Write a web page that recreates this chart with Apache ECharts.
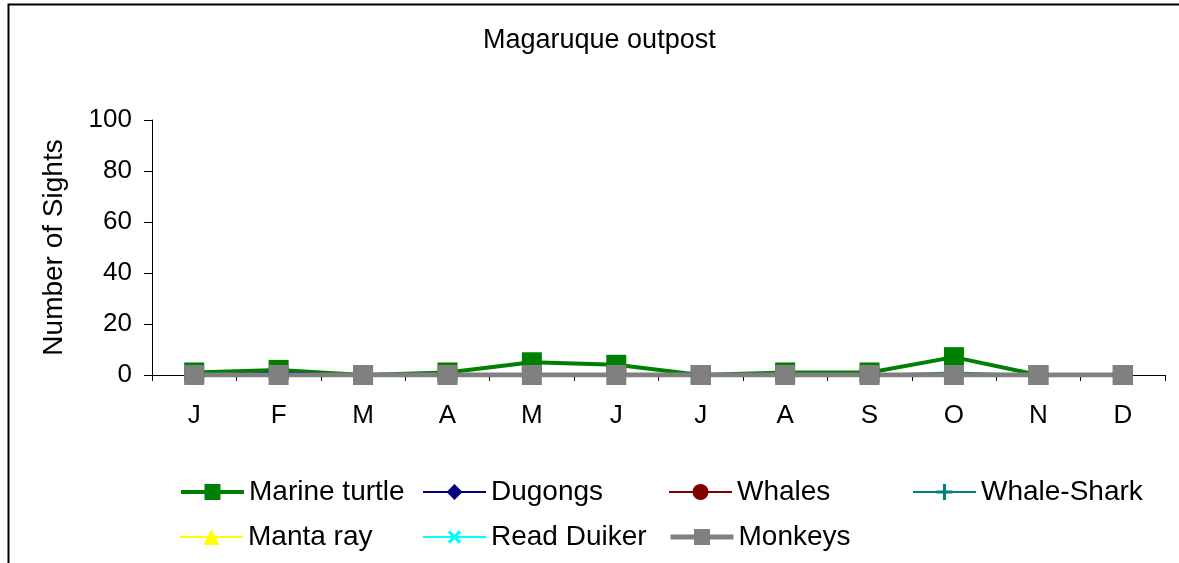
<!DOCTYPE html>
<html>
<head>
<meta charset="utf-8">
<title>Magaruque outpost</title>
<script src="https://cdn.jsdelivr.net/npm/echarts@6/dist/echarts.min.js"></script>
<style>
  html, body { margin: 0; padding: 0; background: #fff; }
  #chart { width: 1179px; height: 563px; }
</style>
</head>
<body>
<div id="chart"></div>
<script>
const months = ['J', 'F', 'M', 'A', 'M', 'J', 'J', 'A', 'S', 'O', 'N', 'D'];
const yTicks = [0, 20, 40, 60, 80, 100];

const marineTurtle = [1, 2, 0, 1, 5, 4, 0, 1, 1, 7, 0, 0];
const dugongs = [0, 1, 0, 0, 0, 0, 0, 0, 0, 0, 0, 0];
const whales = [0, 0, 0, 0, 0, 0, 0, 0, 0, 0, 0, 0];
const whaleShark = [0, 0, 0, 0, 0, 0, 0, 0, 0, 1, 0, 0];
const mantaRay = [0, 0, 0, 0, 0, 0, 0, 0, 0, 0, 0, 0];
const readDuiker = [0, 0, 0, 0, 0, 0, 0, 0, 0, 0, 0, 0];
const monkeys = [0, 0, 0, 0, 0, 0, 0, 0, 0, 0, 0, 0];

const FONT = '"Liberation Sans", Arial, sans-serif';
const PLUS = 'path://M4,0h2v4h4v2h-4v4h-2v-4h-4v-2h4z';

// series look: name, colour, line width, marker, marker size
const looks = [
  ['Marine turtle', marineTurtle, '#008000', 4, 'rect', 20],
  ['Dugongs', dugongs, '#000080', 2, 'diamond', 11],
  ['Whales', whales, '#800000', 2, 'circle', 10],
  ['Whale-Shark', whaleShark, '#008080', 2, PLUS, 11],
  ['Manta ray', mantaRay, '#FFFF00', 2, 'triangle', 11],
  ['Read Duiker', readDuiker, '#00FFFF', 2, PLUS, 11],
  ['Monkeys', monkeys, '#808080', 5, 'rect', 20]
];

// legend slots (left, top) in the same order as looks
const legendSlots = [
  [179, 478], [422, 478], [668, 478], [912, 478],
  [179, 523], [422, 523], [668, 523]
];

const series = looks.map(([name, data, color, width, symbol, size]) => ({
  name: name,
  type: 'line',
  data: data,
  symbol: symbol,
  symbolSize: size,
  symbolRotate: name === 'Read Duiker' ? 45 : 0,
  showAllSymbol: true,
  lineStyle: { color: color, width: width },
  itemStyle: { color: color },
  emphasis: { disabled: true }
}));

const legends = looks.map(([name, , color, width], i) => ({
  left: legendSlots[i][0],
  top: legendSlots[i][1],
  padding: 0,
  itemWidth: 63,
  itemHeight: 20,
  selectedMode: false,
  data: [{ name: name, lineStyle: { color: color, width: width } }],
  textStyle: { fontFamily: FONT, fontSize: 28, color: '#000' }
}));

const chart = echarts.init(document.getElementById('chart'));

chart.setOption({
  backgroundColor: '#fff',
  animation: false,
  title: {
    text: 'Magaruque outpost',
    left: 478,
    top: 22,
    textStyle: { fontFamily: FONT, fontSize: 27, fontWeight: 'normal', color: '#000' }
  },
  legend: legends,
  grid: {
    left: 152,
    right: 14,
    top: 120,
    bottom: 188,
    containLabel: false
  },
  xAxis: {
    type: 'category',
    data: months,
    boundaryGap: true,
    axisLine: { lineStyle: { color: '#000', width: 1 } },
    axisTick: { show: true, inside: false, length: 6, lineStyle: { color: '#000' } },
    axisLabel: { color: '#000', fontFamily: FONT, fontSize: 26, margin: 28 },
    splitLine: { show: false }
  },
  yAxis: {
    type: 'value',
    min: yTicks[0],
    max: yTicks[yTicks.length - 1],
    interval: yTicks[1] - yTicks[0],
    name: 'Number of Sights',
    nameLocation: 'middle',
    nameGap: 84,
    nameTextStyle: { color: '#000', fontFamily: FONT, fontSize: 28 },
    axisLine: { show: true, lineStyle: { color: '#000', width: 1 } },
    axisTick: { show: true, inside: false, length: 8, lineStyle: { color: '#000' } },
    axisLabel: { color: '#000', fontFamily: FONT, fontSize: 26, margin: 20 },
    splitLine: { show: false }
  },
  graphic: [
    {
      type: 'rect',
      left: 6,
      top: 2,
      shape: { width: 1300, height: 700 },
      style: { fill: 'none', stroke: '#000', lineWidth: 2 },
      silent: true,
      z: -10
    }
  ],
  series: series
});

window.addEventListener('resize', () => chart.resize());
</script>
</body>
</html>
